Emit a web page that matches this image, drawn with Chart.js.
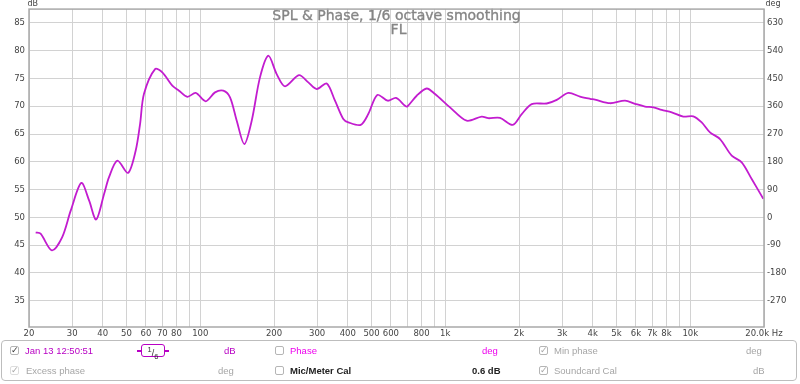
<!DOCTYPE html>
<html>
<head>
<meta charset="utf-8">
<script src="https://cdn.jsdelivr.net/npm/chart.js@4.4.1/dist/chart.umd.min.js"></script>
<style>
  html, body { margin:0; padding:0; background:#fff; }
  body { width:800px; height:384px; position:relative; overflow:hidden; font-family:"Liberation Sans", Arial, sans-serif; }
  #wrap { position:absolute; left:0; top:0; width:800px; height:341px; }
  #panel { position:absolute; left:1px; top:340px; width:796px; height:41px; border:1px solid #bdbdbd; border-radius:4px; box-sizing:border-box; }
  .t { position:absolute; font-size:9.5px; line-height:12px; white-space:nowrap; }
  .cb { position:absolute; width:9px; height:9px; border:1px solid #b5b5b5; border-radius:2px; background:#fff; box-sizing:border-box; }
  .ck { position:absolute; font-size:9px; line-height:10px; font-family:"DejaVu Sans", sans-serif; }
  .mag { color:#b800c4; }
  .pink { color:#ee00ee; }
  .grey { color:#a6a6a6; }
  .dark { color:#222; font-weight:bold; }
  #smooth { position:absolute; left:139px; top:3px; width:24px; height:13px; border:1.5px solid #b800c4; border-radius:3px; box-sizing:border-box; font-size:9px; line-height:10px; color:#333; text-align:center; }
  .sline { position:absolute; top:9px; height:1.5px; background:#b800c4; }
</style>
</head>
<body>
<div id="wrap"><canvas id="c"></canvas></div>
<div id="panel">
  <div class="cb" style="left:8px;top:5px;"></div><div class="ck" style="left:9px;top:4px;color:#333;">✓</div>
  <div class="t mag" style="left:23px;top:4px;">Jan 13 12:50:51</div>
  <div class="sline" style="left:135px;width:5px;"></div>
  <div id="smooth"><sup style="font-size:7.5px;">1</sup>/<sub style="font-size:7.5px;">6</sub></div>
  <div class="sline" style="left:162px;width:5px;"></div>
  <div class="t mag" style="left:222px;top:4px;">dB</div>
  <div class="cb" style="left:273px;top:5px;"></div>
  <div class="t pink" style="left:288px;top:4px;">Phase</div>
  <div class="t pink" style="left:480px;top:4px;">deg</div>
  <div class="cb" style="left:537px;top:5px;"></div><div class="ck grey" style="left:538px;top:4px;">✓</div>
  <div class="t grey" style="left:552px;top:4px;">Min phase</div>
  <div class="t grey" style="left:744px;top:4px;">deg</div>

  <div class="cb" style="left:8px;top:25px;border-color:#ddd;"></div><div class="ck grey" style="left:9px;top:24px;">✓</div>
  <div class="t grey" style="left:24px;top:24px;">Excess phase</div>
  <div class="t grey" style="left:216px;top:24px;">deg</div>
  <div class="cb" style="left:273px;top:25px;"></div>
  <div class="t dark" style="left:288px;top:24px;">Mic/Meter Cal</div>
  <div class="t dark" style="left:470px;top:24px;">0.6 dB</div>
  <div class="cb" style="left:537px;top:25px;"></div><div class="ck grey" style="left:538px;top:24px;">✓</div>
  <div class="t grey" style="left:552px;top:24px;">Soundcard Cal</div>
  <div class="t grey" style="left:751px;top:24px;">dB</div>
</div>
<script>
// ---- data ----
const freqHz = [21.3, 22.3, 24.8, 27.3, 29.6, 32.7, 35.2, 37.6, 40.5, 42.4, 45.9, 50.7, 54.5, 56.8, 58.9, 65.4, 70.0, 76.9, 81.9, 88.6, 95.8, 105.3, 114.9, 124.2, 132.3, 140.9, 151.3, 162.2, 175.3, 189.6, 205.1, 221.8, 252.9, 276.1, 298.9, 328.2, 354.8, 383.6, 402.2, 451.8, 485.1, 528.0, 582.3, 629.6, 685.0, 700.0, 764.7, 840.2, 908.3, 1046, 1223, 1409, 1498, 1673, 1885, 2052, 2254, 2595, 2852, 3178, 3548, 3898, 4086, 4704, 5416, 5950, 6536, 7068, 7647, 8404, 9368, 10290, 11136, 12040, 13228, 14766, 16220, 17818, 19868];
const splDb = [47.3, 47.05, 44.05, 46.4, 51.2, 56.2, 53.0, 49.6, 54.2, 57.2, 60.2, 58.0, 62.0, 66.8, 72.2, 76.7, 76.1, 73.7, 72.8, 71.7, 72.4, 70.9, 72.5, 72.8, 71.6, 67.4, 63.2, 67.4, 75.2, 79.1, 75.8, 73.6, 75.6, 74.3, 73.1, 74.1, 71.0, 67.7, 67.1, 66.65, 68.6, 72.05, 71.0, 71.5, 70.1, 69.95, 71.9, 73.2, 72.2, 69.8, 67.4, 68.15, 67.85, 67.9, 66.65, 68.6, 70.4, 70.5, 71.15, 72.4, 71.75, 71.35, 71.2, 70.55, 71.0, 70.45, 69.95, 69.8, 69.35, 68.9, 68.15, 68.2, 67.1, 65.3, 64.1, 61.1, 59.9, 56.9, 53.35];
const xGridHz = [20,30,40,50,60,70,80,90,100,200,300,400,500,600,700,800,900,1000,2000,3000,4000,5000,6000,7000,8000,9000,10000,20000];
const xLabels = {20:'20',30:'30',40:'40',50:'50',60:'60',70:'70',80:'80',100:'100',200:'200',300:'300',400:'400',500:'500',600:'600',800:'800',1000:'1k',2000:'2k',3000:'3k',4000:'4k',5000:'5k',6000:'6k',7000:'7k',8000:'8k',10000:'10k',20000:'20.0k Hz'};
const dbTicks = [35,40,45,50,55,60,65,70,75,80,85];
const degTicks = [-270,-180,-90,0,90,180,270,360,450,540,630];
const titleLines = ['SPL & Phase, 1/6 octave smoothing', 'FL'];

const DB_MIN = 30.25, DB_MAX = 87.5;
const toDeg = d => 180 + (d - 60) * 18;

const points = freqHz.map((f, i) => ({x: f, y: splDb[i]}));
const tickFont = {family: '"DejaVu Sans", sans-serif', size: 8.5};

const overlay = {
  id: 'overlay',
  beforeDatasetsDraw(chart) {
    const {ctx, chartArea: a} = chart;
    ctx.save();
    ctx.fillStyle = '#858585';
    ctx.strokeStyle = '#858585';
    ctx.lineWidth = 0.35;
    ctx.font = '14px "DejaVu Sans", sans-serif';
    ctx.textAlign = 'center';
    ctx.textBaseline = 'middle';
    const cx = (a.left + a.right) / 2;
    ctx.fillText(titleLines[0], cx, 16);
    ctx.strokeText(titleLines[0], cx, 16);
    ctx.fillText(titleLines[1], cx + 2, 30.5);
    ctx.strokeText(titleLines[1], cx + 2, 30.5);
    ctx.restore();
  },
  afterDraw(chart) {
    const {ctx, chartArea: a} = chart;
    ctx.save();
    ctx.strokeStyle = '#a9a9a9';
    ctx.lineWidth = 1.5;
    ctx.strokeRect(a.left, a.top, a.right - a.left, a.bottom - a.top);
    ctx.fillStyle = '#444';
    ctx.font = '8px "DejaVu Sans", sans-serif';
    ctx.textBaseline = 'alphabetic';
    ctx.textAlign = 'left';
    ctx.fillText('dB', 27.5, 6);
    ctx.fillText('deg', 765.5, 6);
    ctx.restore();
  }
};

new Chart(document.getElementById('c'), {
  type: 'line',
  data: { datasets: [{
    data: points,
    borderColor: '#c21ccf',
    borderWidth: 1.8,
    pointRadius: 0,
    tension: 0.3,
    fill: false
  }]},
  options: {
    responsive: true,
    maintainAspectRatio: false,
    animation: false,
    devicePixelRatio: 1,
    layout: { padding: {top: 8.5, left: 0, right: 0, bottom: 0} },
    plugins: { legend: {display: false}, tooltip: {enabled: false}, title: {display: false} },
    scales: {
      x: {
        type: 'logarithmic', min: 20, max: 20000,
        afterBuildTicks: s => { s.ticks = xGridHz.map(v => ({value: v})); },
        afterFit: s => { s.height = 14; },
        ticks: { autoSkip: false, maxRotation: 0, minRotation: 0, padding: 2, color: '#444', font: tickFont,
                 callback: (v) => xLabels[v] || '' },
        grid: { color: '#d2d2d2', lineWidth: 1, drawTicks: false },
        border: { display: false }
      },
      y: {
        position: 'left', min: DB_MIN, max: DB_MAX,
        afterBuildTicks: s => { s.ticks = dbTicks.map(v => ({value: v})); },
        afterFit: s => { s.width = 29; },
        ticks: { padding: 4, color: '#444', font: tickFont },
        grid: { color: '#d2d2d2', lineWidth: 1, drawTicks: false },
        border: { display: false }
      },
      y2: {
        position: 'right', min: toDeg(DB_MIN), max: toDeg(DB_MAX),
        afterBuildTicks: s => { s.ticks = degTicks.map(v => ({value: v})); },
        afterFit: s => { s.width = 36; },
        ticks: { padding: 3, color: '#444', font: tickFont },
        grid: { display: false, drawTicks: false },
        border: { display: false }
      }
    }
  },
  plugins: [overlay]
});
</script>
</body>
</html>
